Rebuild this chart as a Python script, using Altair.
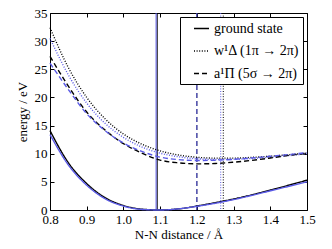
import altair as alt
import pandas as pd

# bond length grid (Å)
r = [0.80, 0.85, 0.90, 0.95, 1.00, 1.05, 1.10, 1.15, 1.20, 1.25, 1.30, 1.35, 1.40, 1.45, 1.50]

# energies (eV)
ground_black = [14.1, 8.4, 4.7, 2.2, 0.8, 0.15, 0.0, 0.2, 0.7, 1.3, 1.95, 2.7, 3.55, 4.4, 5.3]
ground_blue = [13.4, 8.0, 4.4, 2.0, 0.7, 0.1, 0.0, 0.2, 0.65, 1.2, 1.85, 2.6, 3.4, 4.2, 5.0]
w_black = [32.4, 25.3, 20.0, 16.2, 13.5, 11.7, 10.5, 9.77, 9.37, 9.21, 9.22, 9.35, 9.56, 9.81, 10.1]
w_blue = [30.5, 24.0, 19.0, 15.4, 12.9, 11.2, 10.1, 9.45, 9.1, 8.97, 9.0, 9.15, 9.38, 9.66, 9.98]
a_black = [27.3, 22.0, 17.4, 14.2, 11.8, 10.1, 8.87, 8.38, 8.2, 8.26, 8.49, 8.82, 9.24, 9.7, 10.1]
a_blue = [26.1, 21.4, 17.1, 14.1, 11.9, 10.4, 9.4, 8.95, 8.8, 8.85, 9.0, 9.25, 9.55, 9.85, 10.2]

# equilibrium distances (vertical lines)
vline_r = [1.092, 1.089, 1.272, 1.265, 1.20, 1.20]
vline_state = ["ground state", "ground state", "w¹Δ (1π → 2π)", "w¹Δ (1π → 2π)",
               "a¹Π (5σ → 2π)", "a¹Π (5σ → 2π)"]
vline_method = ["black", "blue", "black", "blue", "black", "blue"]

states = ["ground state", "w¹Δ (1π → 2π)", "a¹Π (5σ → 2π)"]
methods = ["black", "blue"]

x_ticks = [0.8, 0.9, 1.0, 1.1, 1.2, 1.3, 1.4, 1.5]
y_ticks = [0, 5, 10, 15, 20, 25, 30, 35]

series = [
    ("ground state", "black", ground_black),
    ("ground state", "blue", ground_blue),
    ("w¹Δ (1π → 2π)", "black", w_black),
    ("w¹Δ (1π → 2π)", "blue", w_blue),
    ("a¹Π (5σ → 2π)", "black", a_black),
    ("a¹Π (5σ → 2π)", "blue", a_blue),
]
rows = []
for st, m, vals in series:
    for xi, yi in zip(r, vals):
        rows.append({"r": xi, "E": yi, "state": st, "method": m, "key": st + m})
curves = pd.DataFrame(rows)
vlines = pd.DataFrame({"r": vline_r, "state": vline_state, "method": vline_method})

FONT = "Liberation Serif"
xscale = alt.Scale(domain=[0.8, 1.5], nice=False, zero=False)
yscale = alt.Scale(domain=[0, 35], nice=False)
color_scale = alt.Scale(domain=methods, range=["#000000", "#5a5ae6"])
dash_scale = alt.Scale(domain=states, range=[[1, 0], [1, 1.6], [5, 3]])
legend = alt.Legend(title=None)

x_axis = alt.Axis(orient="bottom", values=x_ticks, format=".1f", domain=False, grid=False,
                  offset=-4, tickSize=4, labelPadding=3, title="N-N distance / Å",
                  titlePadding=2, labelFlush=False)
y_axis = alt.Axis(orient="left", values=y_ticks, domain=False, grid=False,
                  offset=-4, tickSize=4, labelPadding=3, title="energy / eV",
                  titlePadding=5, labelFlush=False)

rules = alt.Chart(vlines).mark_rule(strokeWidth=1).encode(
    x=alt.X("r:Q", scale=xscale, axis=None),
    color=alt.Color("method:N", scale=color_scale, legend=None),
    strokeDash=alt.StrokeDash("state:N", scale=dash_scale, sort=states, legend=legend),
)

lines = alt.Chart(curves).mark_line(strokeWidth=1.4, interpolate="monotone").encode(
    x=alt.X("r:Q", scale=xscale, axis=x_axis),
    y=alt.Y("E:Q", scale=yscale, axis=y_axis),
    color=alt.Color("method:N", scale=color_scale, legend=None),
    strokeDash=alt.StrokeDash("state:N", scale=dash_scale, sort=states, legend=legend),
    detail="key:N",
    order=alt.Order("r:Q"),
)

# top / right inward ticks
frame_ticks = alt.Chart(pd.DataFrame({"r": [0.8], "E": [0]})).mark_point(opacity=0).encode(
    x=alt.X("r:Q", scale=xscale,
            axis=alt.Axis(orient="top", values=x_ticks, labels=False, domain=False,
                          grid=False, offset=-4, tickSize=4, title=None)),
    y=alt.Y("E:Q", scale=yscale,
            axis=alt.Axis(orient="right", values=y_ticks, labels=False, domain=False,
                          grid=False, offset=-4, tickSize=4, title=None)),
)

chart = alt.layer(rules, lines, frame_ticks).resolve_axis(
    x="independent", y="independent"
).properties(
    width=257, height=197,
    autosize=alt.AutoSizeParams(type="none"),
    padding={"left": 42, "top": 5, "right": 17, "bottom": 31},
).configure_view(
    stroke="black", strokeWidth=1
).configure_axis(
    labelFont=FONT, titleFont=FONT, labelFontSize=13, titleFontSize=13,
    labelColor="black", titleColor="black", tickColor="black", titleFontWeight="normal",
    grid=False,
).configure_legend(
    orient="top-right", offset=4, strokeColor="black", fillColor="white",
    padding=3, cornerRadius=0, labelFont=FONT, labelFontSize=14, labelColor="black",
    symbolType="stroke", symbolSize=225, symbolStrokeWidth=1.4, symbolStrokeColor="black",
    symbolOffset=10, rowPadding=6.5, labelOffset=4, labelLimit=200,
)

chart.save("out.html", embed_options={"renderer": "svg", "actions": False})
